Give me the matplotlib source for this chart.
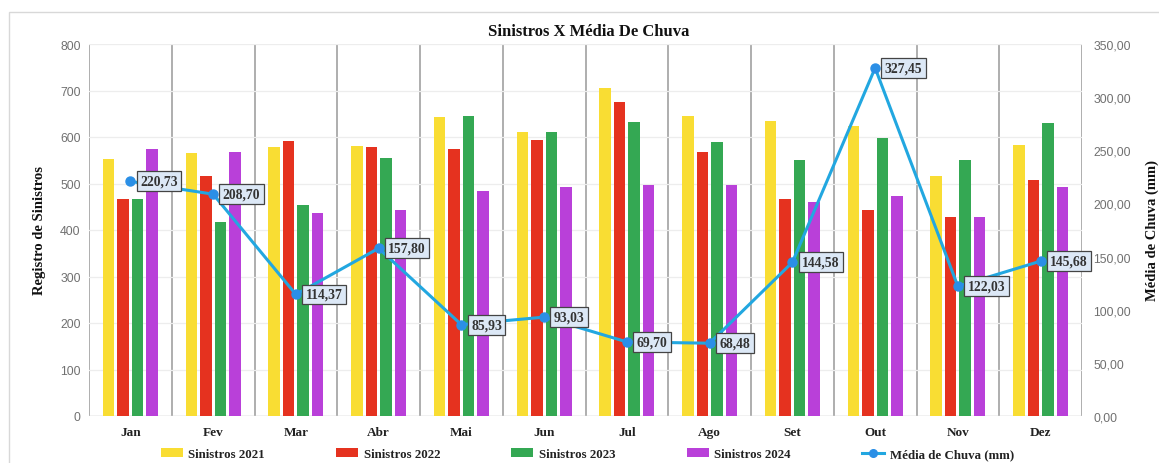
import numpy as np
import matplotlib
matplotlib.use("Agg")
import matplotlib.pyplot as plt
from matplotlib.patches import Patch, Rectangle
from matplotlib.lines import Line2D
from matplotlib.ticker import FuncFormatter, MultipleLocator

# --- data -----------------------------------------------------------------
months = ["Jan", "Fev", "Mar", "Abr", "Mai", "Jun",
          "Jul", "Ago", "Set", "Out", "Nov", "Dez"]
sinistros_2021 = [553, 565, 579, 581, 642, 610, 705, 646, 635, 624, 517, 583]
sinistros_2022 = [467, 517, 592, 578, 574, 593, 675, 567, 467, 442, 429, 507]
sinistros_2023 = [467, 418, 454, 554, 646, 610, 633, 590, 550, 597, 550, 631]
sinistros_2024 = [575, 567, 436, 443, 484, 493, 497, 497, 461, 474, 427, 492]
chuva_media = [220.73, 208.70, 114.37, 157.80, 85.93, 93.03,
               69.70, 68.48, 144.58, 327.45, 122.03, 145.68]

series_names = ["Sinistros 2021", "Sinistros 2022", "Sinistros 2023", "Sinistros 2024"]
line_name = "Média de Chuva (mm)"

# --- style ----------------------------------------------------------------
bar_colors = ["#F9DD33", "#E5321F", "#34A853", "#B940D9"]
line_color = "#22A7E0"
marker_color = "#2B8FE6"
serif = ["Liberation Serif", "DejaVu Serif"]
sans = ["Liberation Sans", "DejaVu Sans"]
tick_gray = "#707070"

W, H = 1159, 464
fig = plt.figure(figsize=(W / 100, H / 100), dpi=100)
fig.patch.set_facecolor("white")

# outer frame line
fig.add_artist(Rectangle((9 / W, -0.05), 1.2, 1 - 13 / H + 0.05,
                         transform=fig.transFigure, fill=False,
                         edgecolor="#d8d8d8", linewidth=1.0))

left, right, bottom, top = 89 / W, 1082 / W, 1 - 417 / H, 1 - 45 / H
ax = fig.add_axes([left, bottom, right - left, top - bottom])
ax2 = ax.twinx()

x = np.arange(len(months))
bar_w = 0.139
step = 0.176
all_series = [sinistros_2021, sinistros_2022, sinistros_2023, sinistros_2024]
for i, (vals, col) in enumerate(zip(all_series, bar_colors)):
    ax.bar(x + (i - 1.5) * step, vals, width=bar_w, color=col, zorder=3)

ax.set_xlim(-0.5, len(months) - 0.5)
ax.set_ylim(0, 800)
ax.yaxis.set_major_locator(MultipleLocator(100))
ax.set_xticks(x)
ax.set_xticklabels(months, fontfamily=serif, fontweight="bold",
                   fontsize=9.5, color="#222222")
ax.tick_params(axis="x", length=0, pad=7)
ax.tick_params(axis="y", length=0, pad=6, labelsize=8.8, labelcolor=tick_gray)
for lab in ax.get_yticklabels():
    lab.set_fontfamily(sans)

# horizontal faint grid and category separators
ax.grid(axis="y", color="#ededed", linewidth=0.9, zorder=0)
for b in np.arange(-0.5, len(months) + 0.5, 1.0):
    ax.axvline(b, color="#a8a8a8", linewidth=1.3, zorder=1)
for s in ax.spines.values():
    s.set_visible(False)
ax.axhline(0, color="#c8c8c8", linewidth=1.0, zorder=2)

ax.set_ylabel("Registro de Sinistros", fontfamily=serif, fontweight="bold",
              fontsize=10.5, color="#111111", labelpad=10)

# rainfall line on the secondary axis
ax2.set_ylim(0, 350)
ax2.yaxis.set_major_locator(MultipleLocator(50))
ax2.yaxis.set_major_formatter(FuncFormatter(lambda v, p: f"{v:.2f}".replace(".", ",")))
ax2.tick_params(axis="y", length=0, pad=8, labelsize=8.8, labelcolor=tick_gray)
for lab in ax2.get_yticklabels():
    lab.set_fontfamily(sans)
for s in ax2.spines.values():
    s.set_visible(False)
ax2.set_ylabel(line_name, fontfamily=serif, fontweight="bold",
               fontsize=10.5, color="#111111", labelpad=11)

ax2.plot(x, chuva_media, color=line_color, linewidth=2.2, zorder=4)
ax2.plot(x, chuva_media, linestyle="none", marker="o", markersize=6.5,
         color=marker_color, zorder=5)
for xi, v in zip(x, chuva_media):
    ax2.annotate(f"{v:.2f}".replace(".", ","), (xi, v), xytext=(7, 0),
                 textcoords="offset points", ha="left", va="center",
                 fontfamily=serif, fontweight="bold", fontsize=9.8,
                 color="#333333", zorder=6,
                 bbox=dict(boxstyle="square,pad=0.25", facecolor="#dce8f6",
                           edgecolor="#444444", linewidth=0.9))

fig.text(589 / W, 1 - 32 / H, "Sinistros X Média De Chuva", ha="center", va="center",
         fontfamily=serif, fontweight="bold", fontsize=12, color="#111111")

# legend
handles = [Patch(facecolor=c, edgecolor="none") for c in bar_colors]
handles.append(Line2D([0], [0], color=line_color, linewidth=2.2, marker="o",
                      markersize=5.5, markerfacecolor=marker_color,
                      markeredgecolor=marker_color, markevery=[0, 1, 2]))
leg = fig.legend(handles, series_names + [line_name], loc="center left",
                 bbox_to_anchor=(149 / W, 1 - 455 / H), ncol=5, frameon=False,
                 prop=dict(family=serif, weight="bold", size=9.3),
                 handlelength=1.7, handleheight=0.65, handletextpad=0.45,
                 columnspacing=5.5)
for t in leg.get_texts():
    t.set_color("#222222")

fig.savefig("out.png", dpi=100, facecolor="white")
